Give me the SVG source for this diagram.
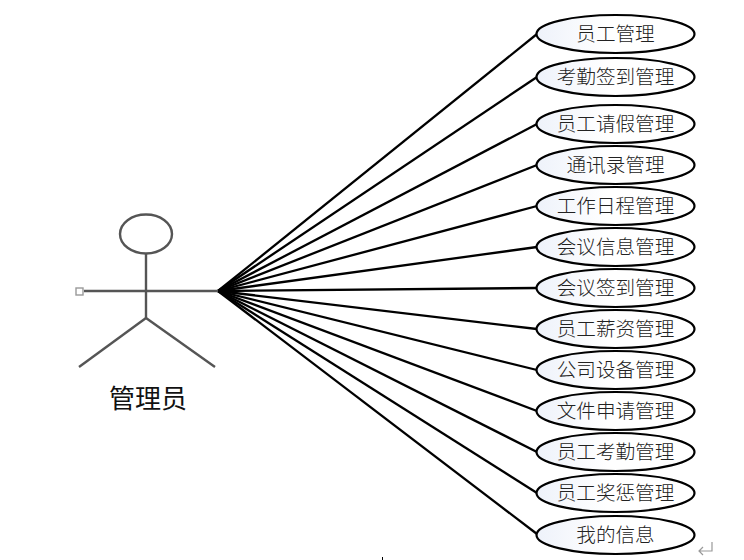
<svg xmlns="http://www.w3.org/2000/svg" width="744" height="560" viewBox="0 0 744 560">
<defs>
<linearGradient id="fill" x1="0" y1="0" x2="1" y2="0"><stop offset="0" stop-color="#eef2fa"/><stop offset="0.45" stop-color="#ffffff"/></linearGradient>
</defs>
<style>
.c line{stroke:#000;stroke-width:2.3;fill:none}
.a{stroke:#555;fill:none;stroke-width:2.4}
.u ellipse{fill:url(#fill);stroke:#000;stroke-width:2.2}
.u text{font-family:"Noto Sans CJK SC","Liberation Sans",sans-serif;font-size:19.6px;font-weight:300;fill:#222;text-anchor:middle}
</style>
<rect width="744" height="560" fill="#fff"/>
<g id="connectors" class="c">
<line x1="218" y1="291" x2="537" y2="34"/>
<line x1="218" y1="291" x2="537" y2="77"/>
<line x1="218" y1="291" x2="537" y2="124"/>
<line x1="218" y1="291" x2="537" y2="165"/>
<line x1="218" y1="291" x2="537" y2="206"/>
<line x1="218" y1="291" x2="537" y2="247"/>
<line x1="218" y1="291" x2="537" y2="288"/>
<line x1="218" y1="291" x2="537" y2="329"/>
<line x1="218" y1="291" x2="537" y2="370"/>
<line x1="218" y1="291" x2="537" y2="411"/>
<line x1="218" y1="291" x2="537" y2="452"/>
<line x1="218" y1="291" x2="537" y2="493"/>
<line x1="218" y1="291" x2="537" y2="534"/>
</g>
<g id="actor">
<ellipse class="a" cx="146" cy="234" rx="26" ry="19.5"/>
<line class="a" x1="146" y1="254" x2="146" y2="318"/>
<line class="a" x1="84" y1="291" x2="218" y2="291"/>
<line class="a" x1="146" y1="318" x2="79" y2="367"/>
<line class="a" x1="146" y1="318" x2="215" y2="367"/>
<rect x="76" y="288" width="7" height="7" fill="#fff" stroke="#999" stroke-width="1.4"/>
<text x="148" y="408" font-family="'Noto Sans CJK SC','Liberation Sans',sans-serif" font-size="26" fill="#111" text-anchor="middle">管理员</text>
</g>
<g id="u1" class="u"><ellipse cx="615.5" cy="34" rx="79" ry="19"/><text x="615.5" y="41">员工管理</text></g>
<g id="u2" class="u"><ellipse cx="615.5" cy="77" rx="79" ry="19"/><text x="615.5" y="84">考勤签到管理</text></g>
<g id="u3" class="u"><ellipse cx="615.5" cy="124" rx="79" ry="19"/><text x="615.5" y="131">员工请假管理</text></g>
<g id="u4" class="u"><ellipse cx="615.5" cy="165" rx="79" ry="19"/><text x="615.5" y="172">通讯录管理</text></g>
<g id="u5" class="u"><ellipse cx="615.5" cy="206" rx="79" ry="19"/><text x="615.5" y="213">工作日程管理</text></g>
<g id="u6" class="u"><ellipse cx="615.5" cy="247" rx="79" ry="19"/><text x="615.5" y="254">会议信息管理</text></g>
<g id="u7" class="u"><ellipse cx="615.5" cy="288" rx="79" ry="19"/><text x="615.5" y="295">会议签到管理</text></g>
<g id="u8" class="u"><ellipse cx="615.5" cy="329" rx="79" ry="19"/><text x="615.5" y="336">员工薪资管理</text></g>
<g id="u9" class="u"><ellipse cx="615.5" cy="370" rx="79" ry="19"/><text x="615.5" y="377">公司设备管理</text></g>
<g id="u10" class="u"><ellipse cx="615.5" cy="411" rx="79" ry="19"/><text x="615.5" y="418">文件申请管理</text></g>
<g id="u11" class="u"><ellipse cx="615.5" cy="452" rx="79" ry="19"/><text x="615.5" y="459">员工考勤管理</text></g>
<g id="u12" class="u"><ellipse cx="615.5" cy="493" rx="79" ry="19"/><text x="615.5" y="500">员工奖惩管理</text></g>
<g id="u13" class="u"><ellipse cx="615.5" cy="535" rx="79" ry="19"/><text x="615.5" y="542">我的信息</text></g>
<path d="M712 542V551H699M703 547L699 551L703 555" fill="none" stroke="#999" stroke-width="1.2"/>
<rect x="382" y="557" width="1" height="3" fill="#000"/>
</svg>
